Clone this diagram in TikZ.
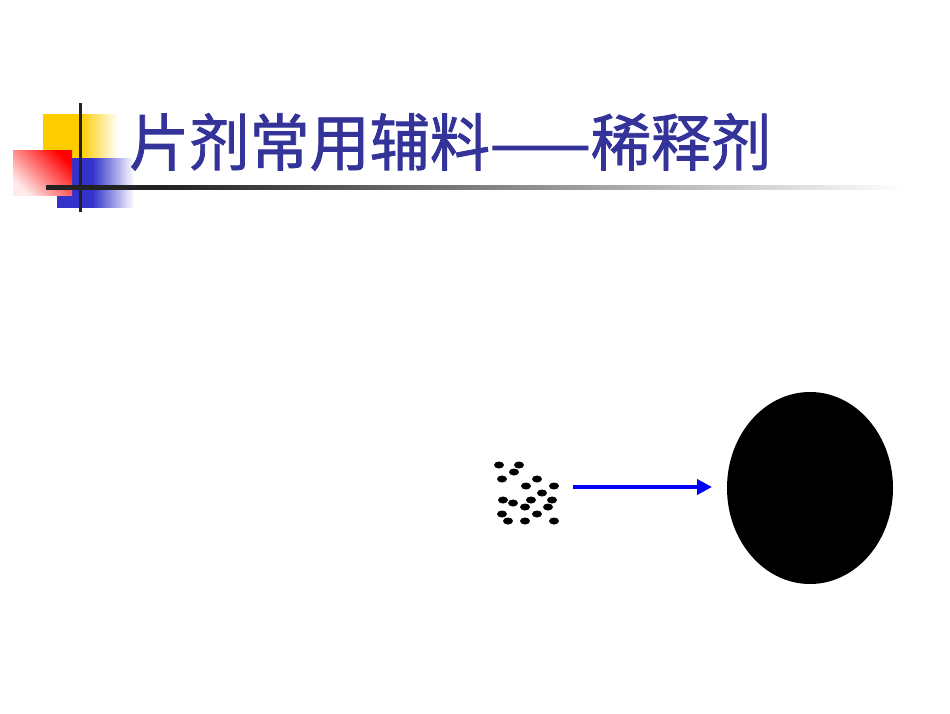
\documentclass[tikz,border=0pt]{standalone}
\usepackage{fontspec}
\newfontfamily\cjk{Noto Sans CJK SC}[FakeBold=1.3]
\usetikzlibrary{arrows.meta,shapes.geometric}
\definecolor{titleblue}{RGB}{51,51,153}
\definecolor{decoyellow}{RGB}{255,204,0}
\definecolor{decoblue}{RGB}{51,51,204}
\definecolor{decored}{RGB}{255,0,0}
\definecolor{linedark}{RGB}{34,34,34}
\pgfdeclarehorizontalshading{yelfade}{100bp}{color(0bp)=(decoyellow); color(25bp)=(decoyellow); color(50bp)=(decoyellow); color(75bp)=(white); color(100bp)=(white)}
\pgfdeclarehorizontalshading{bluefade}{100bp}{color(0bp)=(decoblue); color(25bp)=(decoblue); color(48bp)=(decoblue); color(75bp)=(white); color(100bp)=(white)}
\pgfdeclarehorizontalshading{linefade}{100bp}{color(0bp)=(linedark); color(25bp)=(linedark); color(32bp)=(linedark); color(75bp)=(white); color(100bp)=(white)}
\tikzset{
  grain/.style={fill=black, ellipse, minimum width=10pt, minimum height=7pt, inner sep=0pt},
  flowarrow/.style={draw=blue, line width=4.5pt, -{Triangle[length=15pt,width=15pt]}},
  titletext/.style={anchor=west, inner sep=0pt, font=\cjk\fontsize{62}{62}\selectfont}
}
\begin{document}
\begin{tikzpicture}[x=1pt,y=-1pt]
\useasboundingbox (0,0) rectangle (950,713);
\fill[white] (0,0) rectangle (950,713);
% decoration
\shade[shading=yelfade] (43,114) rectangle (118,158);
\shade[shading=bluefade] (57,158) rectangle (134,207);
\shade[bottom color=decored!8, top color=decored, shading angle=-45] (13,150) rectangle (72,195);
\shade[shading=linefade] (46,185.5) rectangle (905,189.5);
\fill[linedark] (78.5,103) rectangle (82,212);
% title
\node[titletext, text=titleblue] (title) at (129,142) {\scalebox{0.97}[1]{片剂常用辅料——稀释剂}};
% grains
\foreach \i/\x/\y in {1/499/465,2/519/465,3/514/472,4/502/479,5/537/479,6/526/486,7/554/486,8/542/493,9/503/500,10/513/503,11/531/500,12/552/500,13/525/507,14/548/507,15/502/514,16/537/514,17/508/521,18/525/521,19/554/521}
  \node[grain] (g\i) at (\x,\y) {};
% tablet
\node[fill=black, ellipse, minimum width=166pt, minimum height=192pt, inner sep=0pt] (tablet) at (810,488) {};
\coordinate (astart) at (573,487);
\coordinate (aend) at (712,487);
\draw[flowarrow] (astart) -- (aend);
\end{tikzpicture}
\end{document}
